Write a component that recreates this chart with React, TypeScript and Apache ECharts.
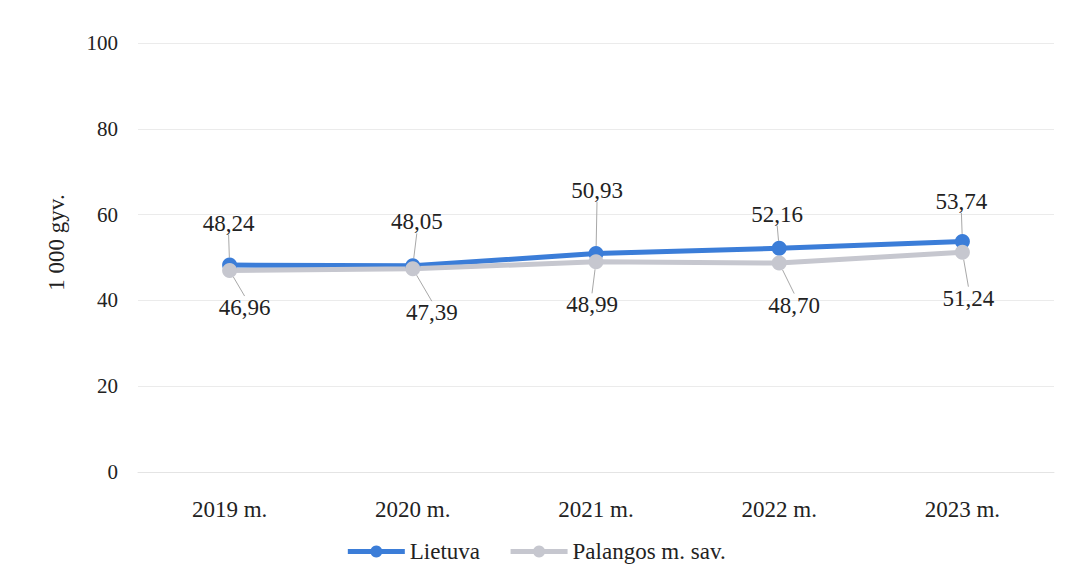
import React, { useEffect, useRef } from "react";
import * as echarts from "echarts";

const categories = ["2019 m.", "2020 m.", "2021 m.", "2022 m.", "2023 m."];
const lietuva = [48.24, 48.05, 50.93, 52.16, 53.74];
const palanga = [46.96, 47.39, 48.99, 48.7, 51.24];
const seriesNames = ["Lietuva", "Palangos m. sav."];
const yTicks = { min: 0, max: 100, interval: 20 };

// label offsets (layout only) relative to each point
const lietuvaLabelOffsets = [
  [-1, -42],
  [4, -44],
  [1, -63],
  [-2, -34],
  [-1, -40],
];
const palangaLabelOffsets = [
  [15, 37],
  [19, 44],
  [-4, 43],
  [15, 42],
  [6, 46],
];

const FONT = "Liberation Serif";
const fmt = (v: number) => v.toFixed(2).replace(".", ",");

export default function App() {
  const ref = useRef<HTMLDivElement>(null);
  useEffect(() => {
    document.body.style.margin = "0";
    const chart = echarts.init(ref.current!, null, { renderer: "svg" });
    const mkSeries = (
      name: string,
      data: number[],
      color: string,
      offsets: number[][]
    ) => ({
      name,
      type: "line",
      data,
      symbol: "circle",
      symbolSize: 15,
      lineStyle: { color, width: 5 },
      itemStyle: { color },
      label: {
        show: true,
        position: "inside",
        formatter: (p: any) => fmt(p.value),
        fontFamily: FONT,
        fontSize: 23,
        color: "#222",
      },
      labelLine: {
        show: true,
        lineStyle: { color: "#a8a8a8", width: 1 },
      },
      labelLayout: (p: any) => ({
        dx: offsets[p.dataIndex][0],
        dy: offsets[p.dataIndex][1],
      }),
    });
    chart.setOption({
      animation: false,
      backgroundColor: "#fff",
      textStyle: { fontFamily: FONT, color: "#222" },
      grid: { left: 138, right: 17, top: 43, bottom: 110 },
      legend: {
        bottom: 14,
        left: "center",
        itemWidth: 57,
        itemHeight: 15,
        itemGap: 28,
        lineStyle: { width: 5 },
        textStyle: { fontFamily: FONT, fontSize: 23, color: "#222" },
        data: seriesNames,
      },
      xAxis: {
        type: "category",
        data: categories,
        axisLine: { show: true, lineStyle: { color: "#e4e4e4" } },
        axisTick: { show: false },
        axisLabel: {
          fontFamily: FONT,
          fontSize: 23,
          color: "#222",
          margin: 26,
        },
      },
      yAxis: {
        type: "value",
        min: yTicks.min,
        max: yTicks.max,
        interval: yTicks.interval,
        name: "1 000 gyv.",
        nameLocation: "middle",
        nameGap: 70,
        nameTextStyle: {
          fontFamily: FONT,
          fontSize: 23,
          color: "#222",
          padding: [0, 0, 0, 30],
        },
        axisLine: { show: false },
        axisTick: { show: false },
        axisLabel: {
          fontFamily: FONT,
          fontSize: 21,
          color: "#222",
          margin: 20,
        },
        splitLine: { lineStyle: { color: "#ebebeb", width: 1 } },
      },
      series: [
        mkSeries(seriesNames[0], lietuva, "#3b7dd8", lietuvaLabelOffsets),
        mkSeries(seriesNames[1], palanga, "#c6c7cf", palangaLabelOffsets),
      ],
    });
    return () => chart.dispose();
  }, []);
  return <div ref={ref} style={{ width: 1071, height: 582 }} />;
}
